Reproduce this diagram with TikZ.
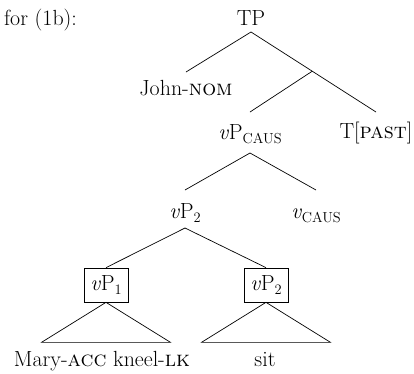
\documentclass[tikz,border=0pt]{standalone}
\usepackage{fontspec}
\usetikzlibrary{calc}
\newcommand{\treefont}{\fontsize{22}{26}\selectfont}
\newcommand{\smc}[1]{\textsc{#1}}
\newcommand{\sbs}[1]{\raisebox{-0.22em}{\fontsize{14.5}{17}\selectfont #1}}
\tikzset{
  lbl/.style={inner sep=0pt, anchor=base, font=\treefont},
  boxed/.style={draw, line width=0.7pt, inner sep=0pt, minimum width=44bp, minimum height=34bp, font=\treefont},
  edge/.style={line width=0.7pt}
}
\begin{document}
\begin{tikzpicture}[x=1bp,y=-1bp]
\useasboundingbox (0,0) rectangle (414,374);
\node[lbl, anchor=base west] (for) at (4,25) {for (1b):};
\node[lbl] (TP) at (251,25) {TP};
\node[lbl] (John) at (186,95) {John-\smc{nom}};
\node[lbl] (vPc) at (250,139) {\textit{v}P\sbs{CAUS}};
\node[lbl] (T) at (376,138) {T[\smc{past}]};
\node[lbl] (vP2) at (185,218) {\textit{v}P\sbs{2}};
\node[lbl] (vc) at (316,218) {\textit{v}\sbs{CAUS}};
\node[boxed] (b1) at (106,285) {\textit{v}P\sbs{1}};
\node[boxed] (b2) at (266,285) {\textit{v}P\sbs{2}};
\node[lbl] (Mary) at (102,366) {Mary-\smc{acc} kneel-\smc{lk}};
\node[lbl] (sit) at (265,366) {sit};
% line ends
\coordinate (TPb) at ([yshift=-7bp]TP.base);
\coordinate (Johnt) at ([yshift=23bp]John.base);
\coordinate (Tt) at ([yshift=26bp]T.base);
\coordinate (br) at ($(TPb)!0.49!(Tt)$);
\coordinate (vPct) at ([yshift=27bp]vPc.base);
\coordinate (vPcb) at ([yshift=-14bp]vPc.base);
\coordinate (vP2t) at ([yshift=28bp]vP2.base);
\coordinate (vP2b) at ([yshift=-10bp]vP2.base);
\coordinate (vct) at ([yshift=28bp]vc.base);
\coordinate (t1l) at ($(b1.south)+(-64.5,40)$);
\coordinate (t1r) at ($(b1.south)+(64.5,40)$);
\coordinate (t2l) at ($(b2.south)+(-64.5,40)$);
\coordinate (t2r) at ($(b2.south)+(64.5,40)$);
\draw[edge] (Johnt) -- (TPb) -- (Tt);
\draw[edge] (br) -- (vPct);
\draw[edge] (vP2t) -- (vPcb) -- (vct);
\draw[edge] (b1.north) -- (vP2b) -- (b2.north);
\draw[edge] (b1.south) -- (t1l) -- (t1r) -- cycle;
\draw[edge] (b2.south) -- (t2l) -- (t2r) -- cycle;
\end{tikzpicture}
\end{document}
